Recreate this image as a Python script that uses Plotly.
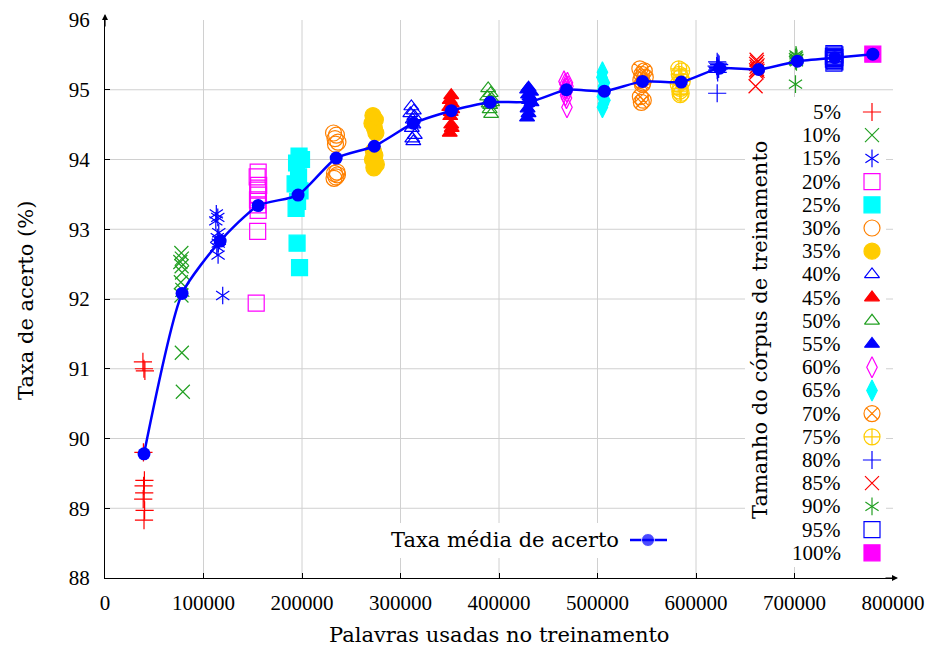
import plotly.graph_objects as go

# ---------------- data ----------------
labels = ["5%", "10%", "15%", "20%", "25%", "30%", "35%", "40%", "45%", "50%",
          "55%", "60%", "65%", "70%", "75%", "80%", "85%", "90%", "95%", "100%"]

x05 = [38500, 39500, 40500, 39000, 40000, 39200, 39800, 38800, 40200, 39600]
y05 = [91.10, 91.00, 90.97, 89.80, 89.40, 89.32, 89.22, 89.13, 88.97, 88.83]
x10 = [77500, 78000, 76500, 77800, 78200, 77000, 78500, 77600, 78000, 79000]
y10 = [92.66, 92.58, 92.53, 92.47, 92.38, 92.24, 92.13, 92.05, 91.23, 90.67]
x15 = [113000, 114500, 112500, 115500, 114000, 116000, 115000, 113500, 114800, 119500]
y15 = [93.22, 93.17, 93.12, 92.95, 92.88, 92.84, 92.80, 92.75, 92.63, 92.05]
x20 = [155500, 154500, 156000, 155000, 155800, 154800, 155200, 155500, 155000, 153500]
y20 = [93.82, 93.75, 93.63, 93.56, 93.49, 93.42, 93.35, 93.27, 92.97, 91.94]
x25 = [197000, 199500, 194500, 196500, 193000, 198000, 195500, 194000, 195000, 197500]
y25 = [94.05, 94.00, 93.95, 93.75, 93.65, 93.55, 93.40, 93.30, 92.80, 92.45]
x30 = [232000, 235000, 233500, 236500, 234000, 235500, 233000, 236000, 234500, 232500]
y30 = [94.38, 94.35, 94.30, 94.25, 94.22, 93.82, 93.80, 93.78, 93.75, 93.73]
x35 = [272000, 274500, 271000, 273500, 275000, 272500, 274000, 271500, 275500, 273000]
y35 = [94.63, 94.57, 94.52, 94.45, 94.38, 94.12, 94.06, 94.00, 93.93, 93.88]
x40 = [311000, 313500, 310000, 314000, 312500, 313000, 311500, 314500, 312000, 313000]
y40 = [94.76, 94.70, 94.66, 94.62, 94.57, 94.50, 94.45, 94.35, 94.30, 94.26]
x45 = [351500, 350000, 352000, 349500, 352500, 351000, 350500, 351500, 352000, 350000]
y45 = [94.92, 94.85, 94.80, 94.75, 94.72, 94.68, 94.62, 94.50, 94.45, 94.38]
x50 = [389000, 391500, 388000, 392500, 390000, 393000, 389500, 391000, 390500, 392000]
y50 = [95.02, 94.95, 94.90, 94.87, 94.84, 94.82, 94.80, 94.78, 94.72, 94.65]
x55 = [430000, 428500, 432500, 429500, 431000, 430500, 433000, 429000, 430000, 428500]
y55 = [95.03, 95.00, 94.97, 94.93, 94.90, 94.85, 94.82, 94.73, 94.66, 94.60]
x60 = [466000, 469500, 467000, 470000, 468000, 466500, 469000, 467500, 468500, 469000]
y60 = [95.12, 95.10, 95.08, 95.05, 95.02, 95.00, 94.97, 94.92, 94.88, 94.75]
x65 = [505000, 504500, 507000, 506000, 505500, 506500, 505000, 507500, 506000, 505000]
y65 = [95.25, 95.18, 95.10, 95.05, 95.00, 94.95, 94.90, 94.85, 94.80, 94.75]
x70 = [543000, 547500, 545000, 548500, 544000, 546000, 545500, 543500, 546500, 544500]
y70 = [95.30, 95.27, 95.22, 95.18, 95.14, 95.10, 95.08, 94.90, 94.85, 94.82]
x75 = [582500, 585500, 583000, 584500, 586000, 582000, 584000, 583500, 585000, 584000]
y75 = [95.30, 95.27, 95.22, 95.18, 95.12, 95.08, 95.02, 94.98, 94.95, 94.93]
x80 = [621500, 622500, 623500, 621000, 622000, 623000, 622500, 621500, 622000, 621500]
y80 = [95.40, 95.38, 95.36, 95.34, 95.32, 95.30, 95.30, 95.28, 95.25, 94.95]
x85 = [661500, 662000, 661000, 662500, 661500, 662000, 661000, 662500, 661500, 660500]
y85 = [95.43, 95.40, 95.37, 95.35, 95.33, 95.30, 95.28, 95.27, 95.25, 95.05]
x90 = [701500, 702000, 701000, 702500, 701500, 702000, 701000, 701500, 702000, 701000]
y90 = [95.50, 95.48, 95.46, 95.45, 95.44, 95.43, 95.42, 95.41, 95.40, 95.08]
x95 = [740000, 741000, 739500, 740500, 741000, 740000, 739500, 740500, 741000, 740000]
y95 = [95.52, 95.50, 95.48, 95.47, 95.46, 95.45, 95.44, 95.42, 95.40, 95.38]
x100 = [779500]
y100 = [95.51]

avg_x = [39600, 78250, 116900, 155500, 196000, 234700, 273400, 313000, 351600, 391000,
         432000, 468500, 507000, 545700, 585000, 624000, 663600, 703000, 740900, 779500]
avg_y = [89.78, 92.08, 92.83, 93.34, 93.49, 94.02, 94.19, 94.52, 94.70, 94.82,
         94.83, 95.00, 94.98, 95.12, 95.11, 95.31, 95.29, 95.41, 95.46, 95.51]

x_ticks = [0, 100000, 200000, 300000, 400000, 500000, 600000, 700000, 800000]
y_ticks = [88, 89, 90, 91, 92, 93, 94, 95, 96]

series_x = [x05, x10, x15, x20, x25, x30, x35, x40, x45, x50,
            x55, x60, x65, x70, x75, x80, x85, x90, x95, x100]
series_y = [y05, y10, y15, y20, y25, y30, y35, y40, y45, y50,
            y55, y60, y65, y70, y75, y80, y85, y90, y95, y100]

# ---------------- styles ----------------
RED, GREEN, BLUE = "#FF0000", "#22A022", "#0000FF"
MAG, CYAN, ORANGE, GOLD = "#FF00FF", "#00FFFF", "#FF8000", "#FFCC00"

styles = [
    ("cross-thin-open", RED, 13), ("x-thin-open", GREEN, 14), ("asterisk6", BLUE, 11),
    ("square-open", MAG, 16), ("square", CYAN, 16), ("circle-open", ORANGE, 16),
    ("circle", GOLD, 16), ("triangle-up-open", BLUE, 13), ("triangle-up", RED, 13),
    ("triangle-up-open", GREEN, 13), ("triangle-up", BLUE, 13),
    ("diamond-tall-open", MAG, 15), ("diamond-tall", CYAN, 15),
    ("circle-x-open", ORANGE, 16), ("circle-cross-open", GOLD, 16),
    ("cross-thin-open", BLUE, 13), ("x-thin-open", RED, 14), ("asterisk6", GREEN, 11),
    ("square-open", BLUE, 16), ("square", MAG, 16),
]

NUMFONT = "Liberation Serif"
TXTFONT = "DejaVu Serif"
NUMFS = 21
TXTFS = 21

# page offset of the plotly div (body margin) and plot area in window pixels
OFF = 8
L, R, T, B = 105, 893, 20, 578
W, H = 936 - OFF, 650 - OFF


def px(xw):
    return (xw - L) / (R - L)


def py(yw):
    return (B - yw) / (B - T)


def add_marks(fig, xs, ys, sym, col, size, xa="x", ya="y"):
    syms = ["y-up-open", "y-down-open"] if sym == "asterisk6" else [sym]
    for s in syms:
        fig.add_trace(go.Scatter(
            x=xs, y=ys, mode="markers", xaxis=xa, yaxis=ya, showlegend=False,
            hoverinfo="skip" if xa != "x" else None,
            marker=dict(symbol=s, size=size, color=col,
                        line=dict(color=col, width=1.2))))


fig = go.Figure()

for xs, ys, (sym, col, size) in zip(series_x, series_y, styles):
    add_marks(fig, xs, ys, sym, col, size)

fig.add_trace(go.Scatter(
    x=avg_x, y=avg_y, mode="lines+markers", name="Taxa média de acerto",
    line=dict(color=BLUE, width=2.5, shape="spline", smoothing=0.6),
    marker=dict(color=BLUE, size=13), showlegend=False))

# ---------------- manual legends (window-pixel coordinates on overlay axes) ----------------
row0, dy = 112, 23.2
for i, (lab, (sym, col, size)) in enumerate(zip(labels, styles)):
    yy = row0 + i * dy
    add_marks(fig, [872], [yy], sym, col, size, "x2", "y2")

fig.add_trace(go.Scatter(
    x=[630, 648, 667], y=[540, 540, 540], mode="lines+markers", xaxis="x2", yaxis="y2",
    line=dict(color=BLUE, width=2.5), marker=dict(color=BLUE, size=[0, 13, 0]),
    showlegend=False, hoverinfo="skip"))

annotations = []
for i, lab in enumerate(labels):
    annotations.append(dict(x=px(843), y=py(row0 + i * dy), xref="paper", yref="paper",
                            text=lab, showarrow=False, xanchor="right", yanchor="middle",
                            font=dict(family=NUMFONT, size=NUMFS, color="black")))
annotations.append(dict(x=px(760), y=py(330), xref="paper", yref="paper",
                        text="Tamanho do córpus de treinamento", textangle=-90,
                        showarrow=False, xanchor="center", yanchor="middle",
                        font=dict(family=TXTFONT, size=TXTFS, color="black")))
annotations.append(dict(x=px(621), y=py(540), xref="paper", yref="paper",
                        text="Taxa média de acerto",
                        showarrow=False, xanchor="right", yanchor="middle",
                        font=dict(family=TXTFONT, size=TXTFS, color="black")))
# axis titles
annotations.append(dict(x=px(499), y=py(635), xref="paper", yref="paper",
                        text="Palavras usadas no treinamento", showarrow=False,
                        xanchor="center", yanchor="middle",
                        font=dict(family=TXTFONT, size=TXTFS, color="black")))
annotations.append(dict(x=px(26), y=py(301), xref="paper", yref="paper",
                        text="Taxa de acerto (%)", textangle=-90, showarrow=False,
                        xanchor="center", yanchor="middle",
                        font=dict(family=TXTFONT, size=TXTFS, color="black")))
# axis arrows
annotations.append(dict(x=px(898), y=0, xref="paper", yref="paper", ax=-14, ay=0, text="",
                        showarrow=True, arrowhead=2, arrowsize=1, arrowwidth=1.2,
                        arrowcolor="black"))
annotations.append(dict(x=0, y=py(14), xref="paper", yref="paper", ax=0, ay=14, text="",
                        showarrow=True, arrowhead=2, arrowsize=1, arrowwidth=1.2,
                        arrowcolor="black"))

# ---------------- grid + legend backgrounds as shapes ----------------
shapes = []
GRID = "#D0D0D0"
for xv in x_ticks[1:-1]:
    shapes.append(dict(type="line", xref="x", yref="y", x0=xv, x1=xv, y0=88, y1=96,
                       line=dict(color=GRID, width=1), layer="below"))
for yv in y_ticks[1:-1]:
    shapes.append(dict(type="line", xref="x", yref="y", x0=0, x1=800000, y0=yv, y1=yv,
                       line=dict(color=GRID, width=1), layer="below"))
shapes.append(dict(type="rect", xref="x2", yref="y2", x0=745, x1=886, y0=97, y1=567,
                   fillcolor="white", line=dict(width=0), layer="below"))
shapes.append(dict(type="rect", xref="x2", yref="y2", x0=386, x1=672, y0=523, y1=558,
                   fillcolor="white", line=dict(width=0), layer="below"))

fig.update_layout(
    width=W, height=H,
    margin=dict(l=L - OFF, r=W - (R - OFF), t=T - OFF, b=H - (B - OFF), autoexpand=False),
    paper_bgcolor="white", plot_bgcolor="white",
    font=dict(family=NUMFONT, size=NUMFS, color="black"),
    showlegend=False,
    xaxis=dict(range=[0, 800000], tickvals=x_ticks, ticktext=[str(v) for v in x_ticks],
               showgrid=False, zeroline=False, showline=True, linecolor="black",
               linewidth=1.2, ticks="inside", ticklen=5, tickcolor="black",
               ticklabelstandoff=6, tickfont=dict(family=NUMFONT, size=NUMFS)),
    yaxis=dict(range=[88, 96], tickvals=y_ticks, showgrid=False, zeroline=False,
               showline=True, linecolor="black", linewidth=1.2, ticks="inside",
               ticklen=5, tickcolor="black", ticklabelstandoff=10,
               tickfont=dict(family=NUMFONT, size=NUMFS)),
    xaxis2=dict(overlaying="x", range=[L, R], visible=False, fixedrange=True),
    yaxis2=dict(overlaying="y", range=[B, T], visible=False, fixedrange=True),
    annotations=annotations,
    shapes=shapes,
)

fig.write_html("out.html")
